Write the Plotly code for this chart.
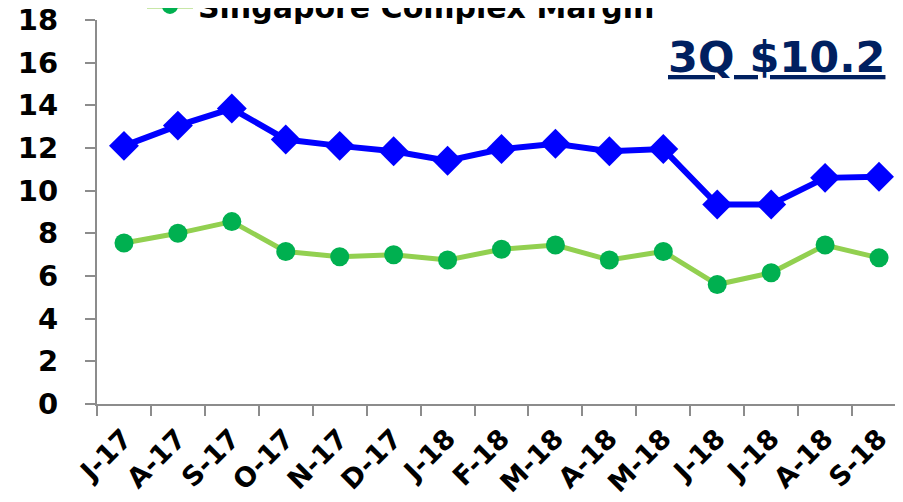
import plotly.graph_objects as go

categories = ["J-17", "A-17", "S-17", "O-17", "N-17", "D-17", "J-18", "F-18",
              "M-18", "A-18", "M-18", "J-18", "J-18", "A-18", "S-18"]
blue_name = "Singapore Refining Margin"
blue_values = [12.1, 13.05, 13.85, 12.4, 12.1, 11.85, 11.4, 11.95, 12.2, 11.85, 11.95, 9.35, 9.35, 10.6, 10.65]
green_name = "Singapore Complex Margin"
green_values = [7.55, 8.0, 8.55, 7.15, 6.9, 7.0, 6.75, 7.25, 7.45, 6.75, 7.15, 5.6, 6.15, 7.45, 6.85]
y_ticks = [0, 2, 4, 6, 8, 10, 12, 14, 16, 18]
annotation_text = "3Q $10.2"

xs = list(range(len(categories)))

fig = go.Figure()
fig.add_trace(go.Scatter(
    x=xs, y=blue_values, name=blue_name, mode="lines+markers",
    line=dict(color="#0000FF", width=6),
    marker=dict(symbol="diamond", size=23, color="#0000FF"),
))
fig.add_trace(go.Scatter(
    x=xs, y=green_values, name=green_name, mode="lines+markers",
    line=dict(color="#92D050", width=5),
    marker=dict(symbol="circle", size=19, color="#00B050"),
))

font_family = "DejaVu Sans"
L, R, T, B = 89, 5, 12, 106
PW, PH = 903 - L - R, 502 - T - B

fig.update_layout(
    width=903, height=502,
    margin=dict(l=L, r=R, t=T, b=B, autoexpand=False),
    paper_bgcolor="white", plot_bgcolor="white",
    showlegend=True,
    legend=dict(
        x=0.0556, y=0.969, xanchor="left", yanchor="bottom",
        font=dict(family=font_family, size=30, color="black", weight="bold"),
        bgcolor="rgba(0,0,0,0)", tracegroupgap=0, itemwidth=46,
    ),
    font=dict(family=font_family),
)

fig.update_xaxes(
    range=[-0.5, 14.5],
    tickmode="array", tickvals=xs, ticktext=categories,
    tickangle=-45, ticks="", showgrid=False, zeroline=False,
    showline=True, linecolor="#8C8C8C", linewidth=2,
    tickfont=dict(family=font_family, size=27, color="black", weight="bold"),
    ticklabelstandoff=6, ticklabeloverflow="allow",
    minor=dict(tickmode="array", tickvals=[x - 0.5 for x in xs] + [14.5],
               ticks="outside", ticklen=10, tickcolor="#8C8C8C", tickwidth=2, showgrid=False),
)
fig.update_yaxes(
    range=[0, 18], tickmode="array", tickvals=y_ticks,
    ticks="outside", ticklen=10, tickcolor="#8C8C8C", tickwidth=2,
    showgrid=False, zeroline=False, showline=True, linecolor="#8C8C8C", linewidth=2,
    tickfont=dict(family=font_family, size=29, color="black", weight="bold"),
    ticklabelstandoff=21, ticklabeloverflow="allow",
)

fig.add_annotation(
    x=(768 - L) / PW, y=1 - (49 - T) / PH, xref="paper", yref="paper",
    xanchor="center", yanchor="middle",
    text=annotation_text, showarrow=False,
    font=dict(family=font_family, size=43, color="#002060", weight="bold", lineposition="under"),
)

fig.write_html("out.html")
